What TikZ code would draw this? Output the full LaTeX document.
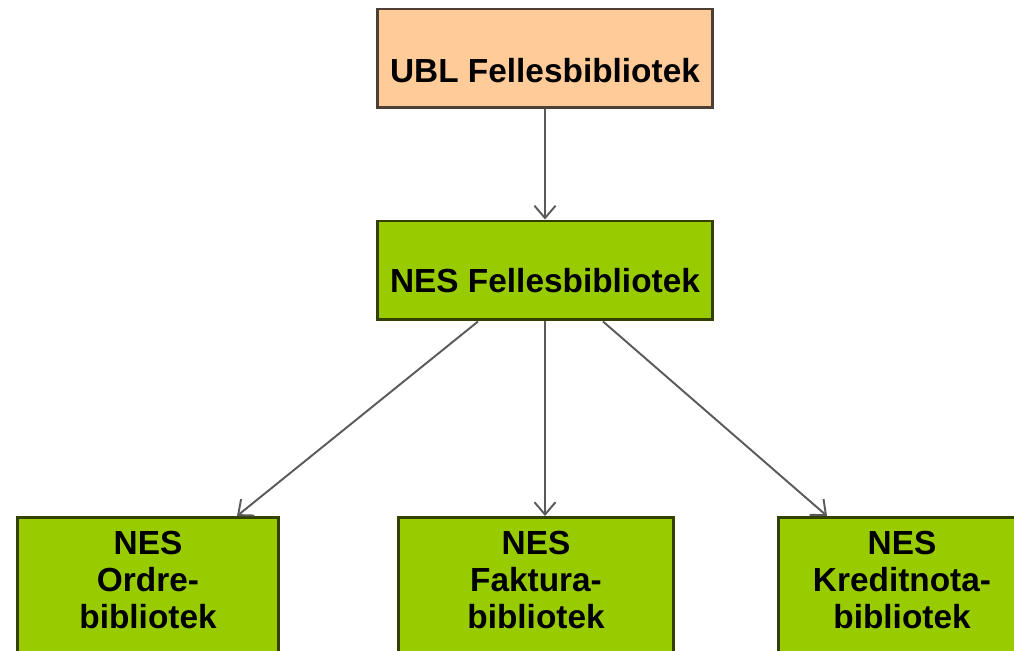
\documentclass[tikz,border=0pt]{standalone}
\usepackage{fontspec}
\setmainfont{Liberation Sans}
\usetikzlibrary{arrows.meta,positioning}

\definecolor{peach}{HTML}{FFCC99}
\definecolor{peachline}{HTML}{4D3F33}
\definecolor{libgreen}{HTML}{99CC00}
\definecolor{greenline}{HTML}{334000}
\definecolor{arrowgray}{HTML}{5A5A5A}

\begin{document}
\begin{tikzpicture}[x=0.02cm,y=-0.02cm]
\tikzstyle{every node}+=[inner sep=0pt,font=\fontsize{19}{21}\selectfont\bfseries]
\tikzstyle{ublbox}=[draw=peachline,fill=peach,line width=1.7pt,minimum width=6.7cm,text height=1.48cm,text depth=0.5cm]
\tikzstyle{nesbox}=[draw=greenline,fill=libgreen,line width=1.7pt,minimum width=6.7cm,text height=1.44cm,text depth=0.54cm]
\tikzstyle{libbox}=[draw=greenline,fill=libgreen,line width=1.7pt,anchor=north,align=center,text height=0.74cm,text depth=2.6cm]
\tikzstyle{dep}=[draw=arrowgray,line width=1.1pt,-{Straight Barb[length=7pt,width=12pt]}]
\useasboundingbox (0,0) rectangle (1014,651);
\node[ublbox] (ubl) at (545,58.5) {UBL Fellesbibliotek};
\node[nesbox] (nesfelles) at (545,270.5) {NES Fellesbibliotek};
\node[libbox,text width=5.24cm] (ordre) at (148,516) {NES\\Ordre-\\bibliotek};
\node[libbox,text width=5.52cm] (faktura) at (536,516) {NES\\Faktura-\\bibliotek};
\node[libbox,text width=4.96cm] (kredit) at (902,516) {NES\\Kreditnota-\\bibliotek};
\draw[dep] (ubl) -- (nesfelles);
\draw[dep] ([xshift=-1.34cm]nesfelles.south) -- ([xshift=1.78cm]ordre.north);
\draw[dep] (nesfelles.south) -- (nesfelles.south |- faktura.north);
\draw[dep] ([xshift=1.16cm]nesfelles.south) -- ([xshift=-1.5cm]kredit.north);
\end{tikzpicture}
\end{document}
